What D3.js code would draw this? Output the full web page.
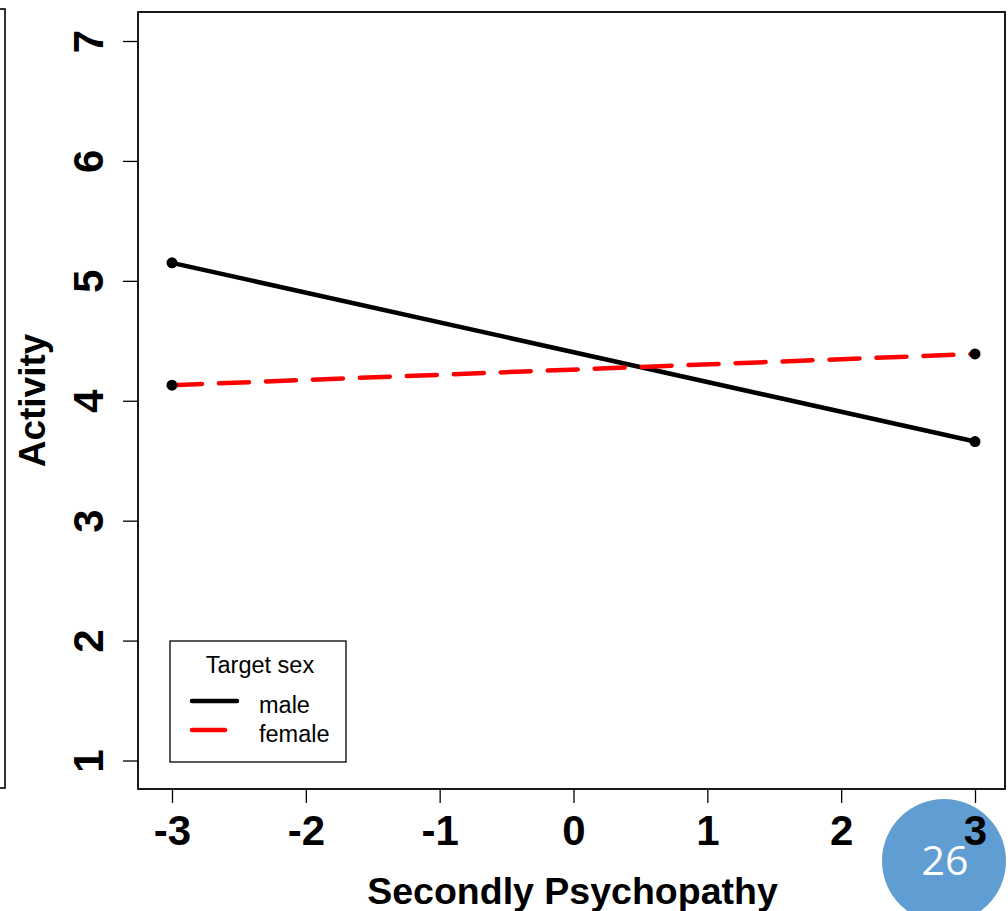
<!DOCTYPE html>
<html>
<head>
<meta charset="utf-8">
<script src="https://cdn.jsdelivr.net/npm/d3@7"></script>
<style>
  html, body { margin: 0; padding: 0; background: #fff; }
  svg { display: block; }
</style>
</head>
<body>
<svg id="chart" width="1008" height="911"></svg>
<script>
// ---- data ----
const xValues = [-3, 3];
const maleValues = [5.15, 3.66];
const femaleValues = [4.13, 4.39];
const xTicks = [-3, -2, -1, 0, 1, 2, 3];
const yTicks = [1, 2, 3, 4, 5, 6, 7];
const seriesNames = ["male", "female"];
const legendTitle = "Target sex";
const xTitle = "Secondly Psychopathy";
const yTitle = "Activity";
const slideNumber = "26";

// ---- layout ----
const box = { left: 138, top: 12, right: 1005, bottom: 789 };
const svg = d3.select("#chart");
const font = "'Liberation Sans', Arial, Helvetica, sans-serif";

const x = d3.scaleLinear().domain([-3, 3]).range([172, 975]);
const y = d3.scaleLinear().domain([1, 7]).range([760.5, 41]);

// left neighbour plot's frame edge
svg.append("rect").attr("x", -50).attr("y", 9).attr("width", 55).attr("height", 779)
  .attr("fill", "none").attr("stroke", "#000").attr("stroke-width", 1.6);

// slide number bubble (drawn first; axis labels go over it)
svg.append("circle").attr("cx", 944).attr("cy", 861).attr("r", 62).attr("fill", "#5f9dd2");
svg.append("text").attr("x", 945).attr("y", 875).attr("text-anchor", "middle")
  .attr("font-family", "'Open Sans', sans-serif").attr("font-size", 41).attr("fill", "#fff")
  .text(slideNumber);

// plot box
svg.append("rect").attr("x", box.left).attr("y", box.top)
  .attr("width", box.right - box.left).attr("height", box.bottom - box.top)
  .attr("fill", "none").attr("stroke", "#000").attr("stroke-width", 1.8);

// x axis
const xAxis = svg.append("g").attr("transform", `translate(0,${box.bottom})`)
  .call(d3.axisBottom(x).tickValues(xTicks).tickSize(14).tickPadding(9).tickFormat(d3.format("d")));
xAxis.select(".domain").remove();
xAxis.selectAll(".tick line").attr("stroke", "#000").attr("stroke-width", 1.3);
xAxis.selectAll(".tick text").attr("font-family", font).attr("font-weight", "bold")
  .attr("font-size", 42).attr("fill", "#000").attr("dy", null).attr("y", 56)
  .text(d => d < 0 ? "-" + Math.abs(d) : d);

// y axis
const yAxis = svg.append("g").attr("transform", `translate(${box.left},0)`)
  .call(d3.axisLeft(y).tickValues(yTicks).tickSize(15).tickFormat(d3.format("d")));
yAxis.select(".domain").remove();
yAxis.selectAll(".tick line").attr("stroke", "#000").attr("stroke-width", 1.3);
yAxis.selectAll(".tick text").remove();
yAxis.selectAll(".tick").append("text")
  .attr("transform", "translate(-35,0) rotate(-90)")
  .attr("text-anchor", "middle").attr("font-family", font).attr("font-weight", "bold")
  .attr("font-size", 42).attr("fill", "#000")
  .text(d => d);

// axis titles
svg.append("text").attr("x", (box.left + box.right) / 2 + 1).attr("y", 904)
  .attr("text-anchor", "middle").attr("font-family", font).attr("font-weight", "bold")
  .attr("font-size", 37.5).attr("fill", "#000").text(xTitle);
svg.append("text").attr("transform", `translate(45,${(box.top + box.bottom) / 2}) rotate(-90)`)
  .attr("text-anchor", "middle").attr("font-family", font).attr("font-weight", "bold")
  .attr("font-size", 37).attr("fill", "#000").text(yTitle);

// lines
const series = [
  { name: seriesNames[0], values: maleValues, color: "#000", dash: null },
  { name: seriesNames[1], values: femaleValues, color: "#ff0000", dash: "30,17" }
];
const line = d3.line().x(d => x(d[0])).y(d => y(d[1]));
series.forEach(s => {
  const pts = xValues.map((xv, i) => [xv, s.values[i]]);
  svg.append("path").datum(pts).attr("d", line).attr("fill", "none")
    .attr("stroke", s.color).attr("stroke-width", 4.5).attr("stroke-linecap", "round")
    .attr("stroke-dasharray", s.dash);
});
series.forEach(s => {
  svg.selectAll(null).data(xValues.map((xv, i) => [xv, s.values[i]])).enter()
    .append("circle").attr("cx", d => x(d[0])).attr("cy", d => y(d[1])).attr("r", 5.5)
    .attr("fill", "#000");
});

// legend
const lg = svg.append("g");
lg.append("rect").attr("x", 170).attr("y", 641).attr("width", 176).attr("height", 121)
  .attr("fill", "#fff").attr("stroke", "#000").attr("stroke-width", 1.3);
lg.append("text").attr("x", 260).attr("y", 673).attr("text-anchor", "middle")
  .attr("font-family", font).attr("font-size", 23.5).attr("fill", "#000").text(legendTitle);
series.forEach((s, i) => {
  const ly = 701 + i * 29;
  lg.append("line").attr("x1", 192).attr("x2", 237).attr("y1", ly).attr("y2", ly)
    .attr("stroke", s.color).attr("stroke-width", 4.5).attr("stroke-linecap", "round")
    .attr("stroke-dasharray", s.dash ? "33,20" : null);
  lg.append("text").attr("x", 259).attr("y", ly + 12).attr("font-family", font)
    .attr("font-size", 23.5).attr("fill", "#000").text(s.name);
});
</script>
</body>
</html>
